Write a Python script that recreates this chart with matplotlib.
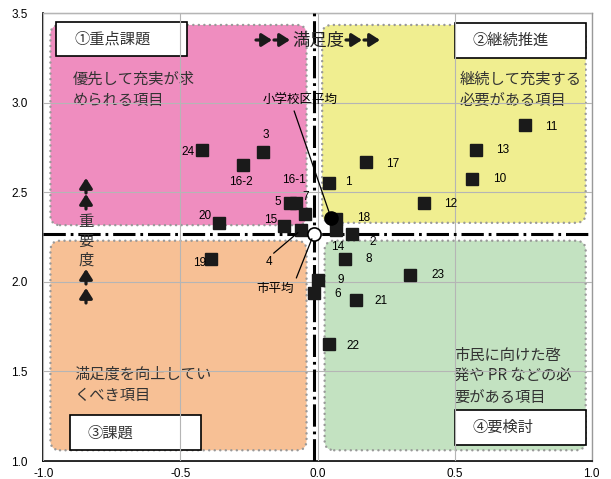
import matplotlib
matplotlib.use("Agg")
import matplotlib.pyplot as plt
from matplotlib.patches import FancyBboxPatch, Rectangle

plt.rcParams['font.family'] = ['Noto Sans CJK JP', 'DejaVu Sans']

# 満足度 (x) / 重要度 (y)
item_labels = ['1', '2', '3', '4', '5', '6', '7', '8', '9', '10', '11', '12',
               '13', '14', '15', '16-1', '16-2', '17', '18', '19', '20', '21',
               '22', '23', '24']
satisfaction = [0.041, 0.127, -0.198, -0.060, -0.099, -0.011, -0.047, 0.102,
                0.002, 0.565, 0.755, 0.390, 0.579, 0.066, -0.123, -0.080,
                -0.273, 0.178, 0.066, -0.387, -0.360, 0.141, 0.041, 0.339,
                -0.423]
importance = [2.550, 2.265, 2.723, 2.290, 2.442, 1.939, 2.379, 2.126, 2.010,
              2.574, 2.876, 2.439, 2.736, 2.290, 2.313, 2.442, 2.653, 2.668,
              2.350, 2.126, 2.327, 1.898, 1.651, 2.038, 2.736]
city_avg = (-0.013, 2.27)
school_avg = (0.050, 2.355)

x_ticks = [-1.0, -0.5, 0.0, 0.5, 1.0]
y_ticks = [1.0, 1.5, 2.0, 2.5, 3.0, 3.5]

# label offsets in pixels (dx, dy up)
label_off = {'1': (20, 1), '2': (20, -8), '3': (3, 17), '4': None, '5': (-13, 1),
             '6': (23, -1), '7': (1, 17), '8': (23, 0), '9': (23, 0),
             '10': (27, 0), '11': (27, -2), '12': (26, -1), '13': (26, 0),
             '14': (2, -17), '15': (-13, 6), '16-1': (-2, 23), '16-2': (-2, -17),
             '17': (26, -2), '18': (28, 1), '19': (-12, -4), '20': (-14, 7),
             '21': (25, -1), '22': (24, -2), '23': (27, 0), '24': (-14, -2)}

fig = plt.figure(figsize=(6.11, 4.79), dpi=100)
ax = fig.add_axes([43.3 / 611, 18 / 479, 548.4 / 611, 447.7 / 479])
ax.set_xlim(-1.0, 1.0)
ax.set_ylim(1.0, 3.5)
ax.set_xticks(x_ticks)
ax.set_yticks(y_ticks)
ax.xaxis.set_major_formatter(matplotlib.ticker.FormatStrFormatter('%.1f'))
ax.yaxis.set_major_formatter(matplotlib.ticker.FormatStrFormatter('%.1f'))
ax.tick_params(length=0, labelsize=8.5)
ax.tick_params(axis='y', pad=11)
ax.tick_params(axis='x', pad=5)
for t in ax.get_xticklabels() + ax.get_yticklabels():
    t.set_fontfamily('Liberation Sans')
for s in ['left', 'bottom']:
    ax.spines[s].set_color('black')
    ax.spines[s].set_linewidth(1.2)
for s in ['top', 'right']:
    ax.spines[s].set_color('#999999')
    ax.spines[s].set_linewidth(1.0)

asp = (548.4 / 2.0) / (447.7 / 2.5)
quads = [(-0.974, 2.317, -0.040, 3.435, '#EF8DBF'),
         (0.017, 2.330, 0.978, 3.435, '#F0EE90'),
         (-0.974, 1.060, -0.040, 2.230, '#F7C095'),
         (0.026, 1.060, 0.978, 2.230, '#C3E2C1')]
for x0, y0, x1, y1, c in quads:
    p = FancyBboxPatch((x0, y0), x1 - x0, y1 - y0,
                       boxstyle='round,pad=0,rounding_size=0.035',
                       mutation_aspect=asp, facecolor=c, edgecolor='#999999',
                       linewidth=1.8, linestyle=(0, (0.01, 2.2)), zorder=1)
    p.set_capstyle('round')
    ax.add_patch(p)

ax.grid(True, color='#b5b5b5', linewidth=0.8, zorder=1.5)
ax.set_axisbelow(False)

# descriptions
desc = [(-0.893, 3.071, '優先して充実が求\nめられる項目', '#EF8DBF'),
        (0.519, 3.071, '継続して充実する\n必要がある項目', '#F0EE90'),
        (-0.887, 1.426, '満足度を向上してい\nくべき項目', '#F7C095'),
        (0.497, 1.472, '市民に向けた啓\n発や PR などの必\n要がある項目', '#C3E2C1')]
for x, y, s, c in desc:
    ax.text(x, y, s, fontsize=11, color='#333333', ha='left', va='center',
            linespacing=1.3, zorder=2,
            bbox=dict(facecolor=c, edgecolor='none', pad=2))

# quadrant title boxes
boxes = [(-0.953, 3.261, -0.476, 3.453, '①重点課題'),
         (0.501, 3.249, 0.980, 3.447, '②継続推進'),
         (-0.904, 1.060, -0.424, 1.256, '③課題'),
         (0.500, 1.088, 0.978, 1.284, '④要検討')]
for x0, y0, x1, y1, s in boxes:
    ax.add_patch(Rectangle((x0, y0), x1 - x0, y1 - y0, facecolor='white',
                           edgecolor='black', linewidth=1.2, zorder=2.5))
    ax.text(x0 + 0.065, (y0 + y1) / 2, s, fontsize=11, color='#333333',
            ha='left', va='center', zorder=2.6)

# average lines
dd = (0, (7.3, 1.6, 0.9, 1.6))
ax.axhline(city_avg[1], color='black', linewidth=2.2, linestyle=dd, zorder=3)
ax.axvline(city_avg[0], color='black', linewidth=2.2, linestyle=dd, zorder=3)

ax.plot(satisfaction, importance, 's', color='#1a1a1a', markersize=9, zorder=4)
ax.plot(*school_avg, 'o', color='black', markersize=9.5, zorder=4.5)
ax.plot(*city_avg, 'o', markerfacecolor='white', markeredgecolor='black',
        markeredgewidth=1.2, markersize=9.5, zorder=5)

for lab, x, y in zip(item_labels, satisfaction, importance):
    off = label_off[lab]
    if off is None:
        continue
    ax.annotate(lab, (x, y), xytext=off, textcoords='offset pixels',
                ha='center', va='center', fontsize=8.5,
                family='Liberation Sans', zorder=6)

i4 = item_labels.index('4')
ax.annotate('4', (satisfaction[i4], importance[i4]), xytext=(-32, -32),
            textcoords='offset pixels', ha='center', va='center', fontsize=8.5,
            family='Liberation Sans', zorder=6,
            arrowprops=dict(arrowstyle='-', color='black', lw=0.9,
                            relpos=(0.7, 1.0), shrinkA=0, shrinkB=3))
ax.annotate('小学校区平均', school_avg, xytext=(-31, 118),
            textcoords='offset pixels', ha='center', va='center', fontsize=9,
            zorder=6,
            arrowprops=dict(arrowstyle='-', color='black', lw=0.9,
                            relpos=(0.4, 0.0), shrinkA=1, shrinkB=0))
ax.annotate('市平均', city_avg, xytext=(-39, -55),
            textcoords='offset pixels', ha='center', va='center', fontsize=9,
            zorder=6,
            arrowprops=dict(arrowstyle='-', color='black', lw=0.9,
                            relpos=(1.0, 0.8), shrinkA=1, shrinkB=4))

# axis captions with bold arrows
ax.text(0.004, 3.345, '満足度', fontsize=12.5, color='#222222',
        ha='center', va='center', zorder=6)
for py, ch in [(221.7, '重'), (241.7, '要'), (260, '度')]:
    fig.text(86 / 611, 1 - py / 479, ch, fontsize=11, color='#333333',
             ha='center', va='center', zorder=7)

arrow_style = dict(arrowstyle='-|>,head_length=0.5,head_width=0.32',
                   color='#1a1a1a', lw=2.3, mutation_scale=12,
                   shrinkA=0, shrinkB=0)
h_arrows = [(256, 272), (274, 290), (346, 362), (364, 380)]
for xa, xb in h_arrows:
    ax.annotate('', xy=(xb, 479 - 40), xytext=(xa, 479 - 40),
                xycoords='figure pixels', textcoords='figure pixels',
                arrowprops=arrow_style, zorder=7)
v_arrows = [(193, 178), (209, 194), (284, 269), (303, 288)]
for ya, yb in v_arrows:
    ax.annotate('', xy=(86, 479 - yb), xytext=(86, 479 - ya),
                xycoords='figure pixels', textcoords='figure pixels',
                arrowprops=arrow_style, zorder=7)

fig.savefig('out.png', dpi=100)
